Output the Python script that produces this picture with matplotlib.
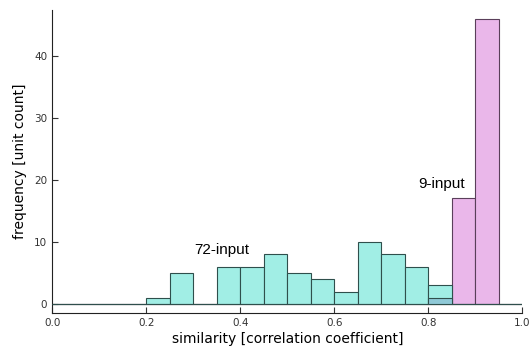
import numpy as np
import matplotlib.pyplot as plt

# histogram bins (width 0.05) and counts
bin_edges = np.round(np.arange(0, 1.0001, 0.05), 2)
count_72 = [0, 0, 0, 0, 1, 5, 0, 6, 6, 8, 5, 4, 2, 10, 8, 6, 3, 0, 0, 0]
count_9 = [0, 0, 0, 0, 0, 0, 0, 0, 0, 0, 0, 0, 0, 0, 0, 0, 1, 17, 46, 0]
xticks = [0.0, 0.2, 0.4, 0.6, 0.8, 1.0]
yticks = [0, 10, 20, 30, 40]

fig = plt.figure(figsize=(5.32, 3.54), dpi=100)
ax = fig.add_axes([0.098, 0.116, 0.884, 0.856])

left = bin_edges[:-1]
w = 0.05
overlap = np.minimum(count_72, count_9)

ax.bar(left, count_9, width=w, align='edge', color='#eab7ea',
       edgecolor='#5a3f5a', linewidth=0.8, zorder=2)
ax.bar(left, count_72, width=w, align='edge', color='#a1eee5',
       edgecolor='#2f4f4c', linewidth=0.8, zorder=3)
# where both histograms overlap the blend shows as blue
ax.bar(left, overlap, width=w, align='edge', color='#8fc9d7',
       edgecolor='#2f4f4c', linewidth=0.8, zorder=4)

ax.text(0.36, 8.7, '72-input', family='Liberation Sans', fontsize=11,
        ha='center', va='center', zorder=5)
ax.text(0.827, 19.4, '9-input', family='Liberation Sans', fontsize=11,
        ha='center', va='center', zorder=5)

ax.set_xlim(0, 1)
ax.set_ylim(-1.45, 47.4)
ax.set_xticks(xticks)
ax.set_xticklabels(['0.0', '0.2', '0.4', '0.6', '0.8', '1.0'])
ax.set_yticks(yticks)
ax.tick_params(direction='in', length=4, labelsize=7.5, colors='#333333',
               labelcolor='#333333')
ax.spines['top'].set_visible(False)
ax.spines['right'].set_visible(False)
ax.spines['left'].set_color('#222222')
ax.spines['bottom'].set_color('#222222')
ax.set_xlabel('similarity [correlation coefficient]', fontsize=10, labelpad=3)
ax.set_ylabel('frequency [unit count]', fontsize=10, labelpad=5)

fig.savefig('out.png', dpi=100)
